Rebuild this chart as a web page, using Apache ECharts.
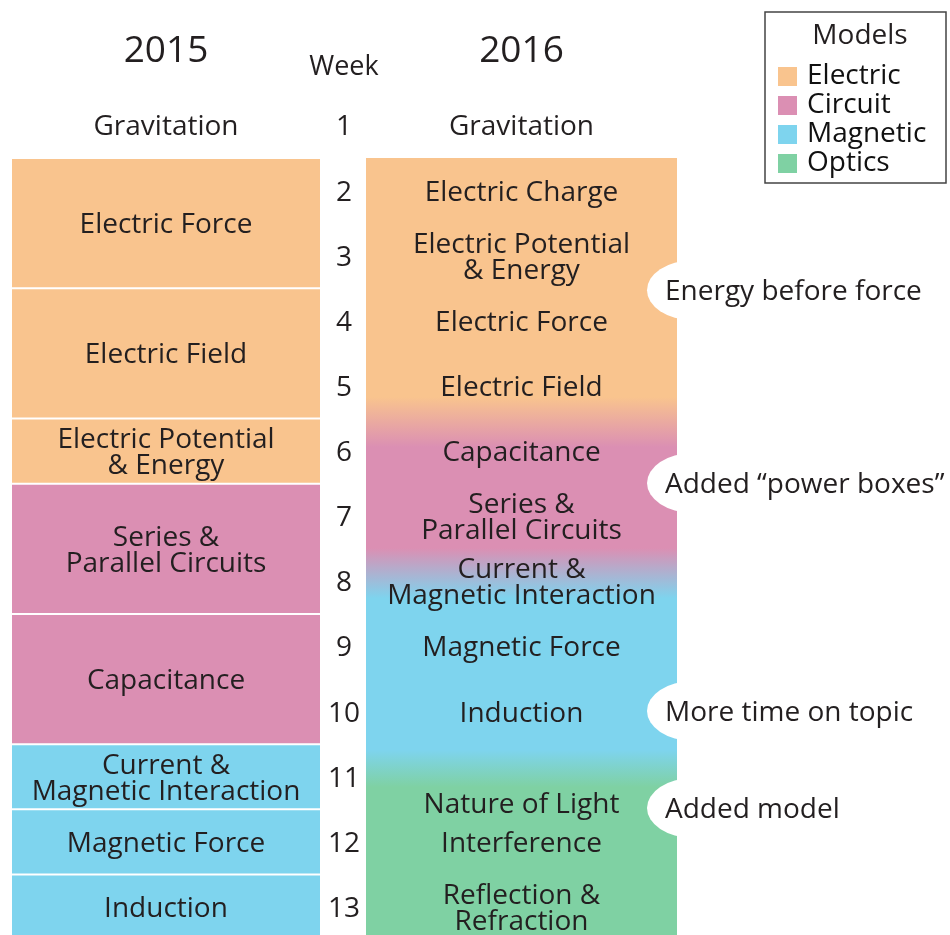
<!DOCTYPE html>
<html>
<head>
<meta charset="utf-8">
<script src="https://cdn.jsdelivr.net/npm/echarts@6/dist/echarts.min.js"></script>
<style>
html, body { margin: 0; padding: 0; background: #fff; }
#chart { width: 950px; height: 935px; }
</style>
</head>
<body>
<div id="chart"></div>
<script>
var years = ['2015', '2016'];
var weekTitle = 'Week';
var weeks = [1, 2, 3, 4, 5, 6, 7, 8, 9, 10, 11, 12, 13];
var models = ['Electric', 'Circuit', 'Magnetic', 'Optics'];

// 2015 course: first week, last week, model (-1 = no box)
var topics2015 = ['Gravitation', 'Electric Force', 'Electric Field', 'Electric Potential\n& Energy',
    'Series &\nParallel Circuits', 'Capacitance', 'Current &\nMagnetic Interaction', 'Magnetic Force', 'Induction'];
var first2015 = [1, 2, 4, 6, 7, 9, 11, 12, 13];
var last2015 = [1, 3, 5, 6, 8, 10, 11, 12, 13];
var model2015 = [-1, 0, 0, 0, 1, 1, 2, 2, 2];

// 2016 course: topic position in weeks
var topics2016 = ['Gravitation', 'Electric Charge', 'Electric Potential\n& Energy', 'Electric Force', 'Electric Field',
    'Capacitance', 'Series &\nParallel Circuits', 'Current &\nMagnetic Interaction', 'Magnetic Force', 'Induction',
    'Nature of Light', 'Interference', 'Reflection &\nRefraction'];
var week2016 = [1, 2, 3, 4, 5, 6, 7, 8, 9, 10, 11.4, 12, 13];
// solid colour run of each model in 2016 (weeks), blended in between
var spanFrom2016 = [1.5, 5.94, 8.26, 11.16];
var spanTo2016 = [5.17, 7.49, 10.59, 13.5];

var notes = ['Energy before force', 'Added \u201cpower boxes\u201d', 'More time on topic', 'Added model'];
var noteWeek = [3.53, 6.49, 9.99, 11.48];

var colors = ['#f9c48e', '#db8fb3', '#7ed4ee', '#7fd1a3'];
var ink = '#231f20';
var FONT = 'Open Sans';

var chart = echarts.init(document.getElementById('chart'));

// x layout (axis units = px from grid left)
var LEFT_W = 308, WEEK_X = 332, RIGHT_X0 = 354, RIGHT_X1 = 665;

function txt(s, x, y, size, align) {
    return {
        type: 'text',
        style: {
            text: s, x: x, y: y + 2, align: align || 'center', verticalAlign: 'middle',
            fontSize: size || 28, fontFamily: FONT, lineHeight: 26, fill: ink
        }
    };
}

function renderOld(params, api) {
    var i = api.value(2);
    var a = api.coord([0, api.value(0) - 0.5]);
    var b = api.coord([LEFT_W, api.value(1) + 0.5]);
    var kids = [];
    if (model2015[i] >= 0) {
        kids.push({
            type: 'rect',
            shape: { x: a[0], y: a[1] + 1, width: b[0] - a[0], height: b[1] - a[1] - 2 },
            style: { fill: colors[model2015[i]] }
        });
    }
    kids.push(txt(topics2015[i], (a[0] + b[0]) / 2, (a[1] + b[1]) / 2));
    return { type: 'group', children: kids };
}

function renderNew(params, api) {
    var a = api.coord([RIGHT_X0, 1.5]);
    var b = api.coord([RIGHT_X1, 13.5]);
    var h = b[1] - a[1];
    var stops = [];
    for (var m = 0; m < models.length; m++) {
        stops.push({ offset: (api.coord([0, spanFrom2016[m]])[1] - a[1]) / h, color: colors[m] });
        stops.push({ offset: (api.coord([0, spanTo2016[m]])[1] - a[1]) / h, color: colors[m] });
    }
    var kids = [{
        type: 'rect',
        shape: { x: a[0], y: a[1], width: b[0] - a[0], height: h },
        style: { fill: { type: 'linear', x: 0, y: 0, x2: 0, y2: 1, colorStops: stops } }
    }];
    var cx = (a[0] + b[0]) / 2;
    for (var i = 0; i < topics2016.length; i++) {
        kids.push(txt(topics2016[i], cx, api.coord([0, week2016[i]])[1]));
    }
    return { type: 'group', children: kids };
}

function renderNote(params, api) {
    var i = api.value(1);
    var p = api.coord([RIGHT_X1, api.value(0)]);
    return {
        type: 'group',
        children: [
            { type: 'circle', x: p[0] + 15, y: p[1], scaleY: 0.66, shape: { cx: 0, cy: 0, r: 45 }, style: { fill: '#fff' } },
            txt(notes[i], p[0] - 12, p[1], 28, 'left')
        ]
    };
}

function renderWeek(params, api) {
    var p = api.coord([WEEK_X, api.value(0)]);
    return txt(String(api.value(0)), p[0], p[1], 28);
}

function renderHead(params, api) {
    var y1 = api.coord([0, 1])[1];
    return {
        type: 'group',
        children: [
            txt(years[0], api.coord([LEFT_W / 2, 1])[0], y1 - 76, 37),
            txt(weekTitle, api.coord([WEEK_X, 1])[0], y1 - 60, 27),
            txt(years[1], api.coord([(RIGHT_X0 + RIGHT_X1) / 2, 1])[0], y1 - 76, 37)
        ]
    };
}

var series = [
    { type: 'custom', renderItem: renderNew, data: [[0]], clip: false, silent: true },
    { type: 'custom', renderItem: renderNote, data: noteWeek.map(function (w, i) { return [w, i]; }), clip: false, silent: true },
    { type: 'custom', renderItem: renderOld, data: topics2015.map(function (t, i) { return [first2015[i], last2015[i], i]; }), clip: false, silent: true },
    { type: 'custom', renderItem: renderWeek, data: weeks.map(function (w) { return [w]; }), clip: false, silent: true },
    { type: 'custom', renderItem: renderHead, data: [[0]], clip: false, silent: true }
];
models.forEach(function (m, i) {
    series.push({ name: m, type: 'line', data: [], itemStyle: { color: colors[i] }, lineStyle: { color: colors[i] } });
});

chart.setOption({
    animation: false,
    title: {
        text: 'Models', left: 855, top: 17, textAlign: 'center',
        textStyle: { fontSize: 28, fontWeight: 'normal', fontFamily: FONT, color: ink }
    },
    legend: {
        data: models, orient: 'vertical', left: 778, top: 62, padding: 0, itemGap: 0,
        itemWidth: 19, itemHeight: 19, icon: 'rect', selectedMode: false,
        textStyle: { fontSize: 28, fontFamily: FONT, color: '#111', lineHeight: 29, padding: [0, 0, 0, 5] }
    },
    graphic: [{
        type: 'rect',
        shape: { x: 765, y: 12, width: 181, height: 171 },
        style: { fill: 'none', stroke: '#444', lineWidth: 1.5 }
    }],
    grid: { left: 12, right: 273, top: 158, bottom: 0 },
    xAxis: { type: 'value', min: 0, max: 665, show: false },
    yAxis: { type: 'value', min: 1.5, max: 13.43, inverse: true, show: false },
    series: series
});
</script>
</body>
</html>
